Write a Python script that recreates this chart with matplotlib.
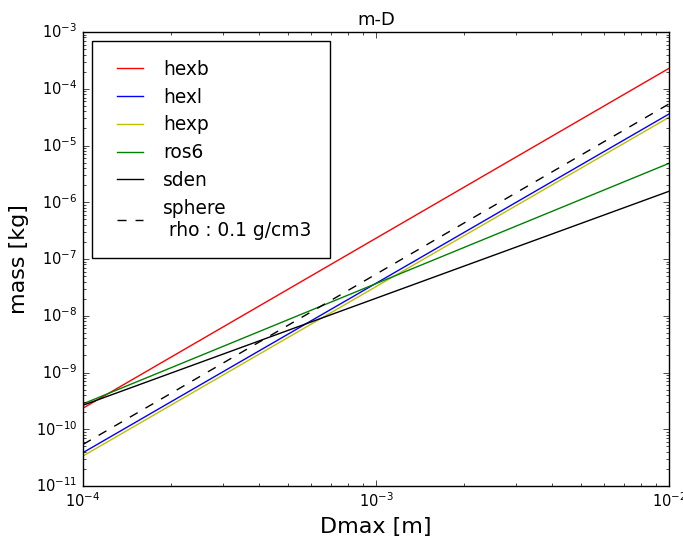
import numpy as np
import matplotlib
matplotlib.use('Agg')
import matplotlib.pyplot as plt

plt.style.use('classic')

# end points of each m-D relation (log-log straight lines)
dmax = [1e-4, 1e-2]
hexb = [2.35e-10, 2.29e-4]
hexl = [3.87e-11, 3.59e-5]
hexp = [3.38e-11, 3.14e-5]
ros6 = [2.8e-10, 4.85e-6]
sden = [2.65e-10, 1.56e-6]
sphere = [5.4e-11, 5.4e-5]

fig = plt.figure(figsize=(6.83, 5.38), dpi=100, facecolor='white')
ax = fig.add_axes([83/683., 52/538., 586/683., 454/538.])

ax.plot(dmax, hexb, color='r', label='hexb')
ax.plot(dmax, hexl, color='b', label='hexl')
ax.plot(dmax, hexp, color='y', label='hexp')
ax.plot(dmax, ros6, color='g', label='ros6')
ax.plot(dmax, sden, color='k', label='sden')
ax.plot(dmax, sphere, color='k', linestyle='--', dashes=(6.5, 6.5),
        label='sphere\n rho : 0.1 g/cm3')

ax.set_xscale('log')
ax.set_yscale('log')
ax.set_xlim(1e-4, 1e-2)
ax.set_ylim(1e-11, 1e-3)
ax.tick_params(labelsize=10.5)
ax.set_xlabel('Dmax [m]', fontsize=16)
ax.set_ylabel('mass [kg]', fontsize=16)
ax.set_title('m-D', fontsize=13)
ax.legend(loc='upper left', fontsize=13.4, handlelength=2.05, handletextpad=0.77,
          borderpad=1.0, labelspacing=0.47)

fig.savefig('out.png', dpi=100, facecolor='white')
